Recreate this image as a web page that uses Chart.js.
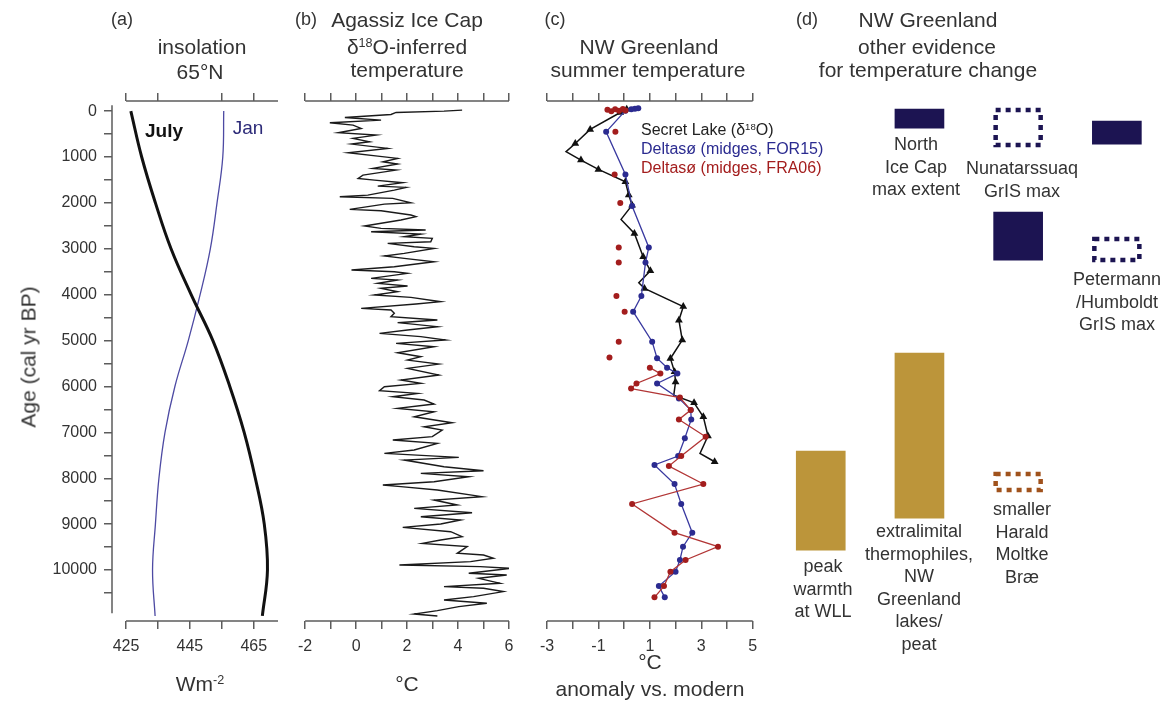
<!DOCTYPE html>
<html>
<head>
<meta charset="utf-8">
<title>NW Greenland Holocene temperature</title>
<script src="https://cdn.jsdelivr.net/npm/chart.js@4.4.0/dist/chart.umd.min.js"></script>
<style>
  body { margin: 0; background: #fff; }
  #wrap { position: relative; width: 1169px; height: 706px; overflow: hidden;
          font-family: "Liberation Sans", Arial, sans-serif; color: #333; }
  canvas { position: absolute; top: 0; }
  .t { position: absolute; white-space: nowrap; line-height: 1; font-size: 21px;
       transform: translate(-50%, -50%); }
  .tag { font-size: 18px; }
  .sup { font-size: 0.6em; position: relative; top: -0.55em; }
  .leg { position: absolute; left: 641px; font-size: 16px; line-height: 1; white-space: nowrap;
         transform: translateY(-50%); }
  .lab { position: absolute; font-size: 18px; line-height: 22.5px; text-align: center;
         white-space: nowrap; transform: translateX(-50%); }
</style>
</head>
<body>
<div id="wrap">
  <canvas id="insol" width="290" height="706" style="left:0"></canvas>
  <canvas id="agassiz" width="235" height="706" style="left:290px"></canvas>
  <canvas id="summer" width="240" height="706" style="left:530px"></canvas>
  <canvas id="evidence" width="409" height="706" style="left:760px"></canvas>

  <div class="t tag" style="left:122px;top:19px">(a)</div>
  <div class="t" style="left:202px;top:46px">insolation</div>
  <div class="t" style="left:200px;top:71px">65°N</div>
  <div class="t tag" style="left:306px;top:19px">(b)</div>
  <div class="t" style="left:407px;top:19px">Agassiz Ice Cap</div>
  <div class="t" style="left:407px;top:46px">δ<span class="sup">18</span>O-inferred</div>
  <div class="t" style="left:407px;top:69px">temperature</div>
  <div class="t tag" style="left:555px;top:19px">(c)</div>
  <div class="t" style="left:649px;top:46px">NW Greenland</div>
  <div class="t" style="left:648px;top:69px">summer temperature</div>
  <div class="t tag" style="left:807px;top:19px">(d)</div>
  <div class="t" style="left:928px;top:19px">NW Greenland</div>
  <div class="t" style="left:927px;top:46px">other evidence</div>
  <div class="t" style="left:928px;top:69px">for temperature change</div>

  <div class="t" style="left:28px;top:357px;transform:translate(-50%,-50%) rotate(-90deg)">Age (cal yr BP)</div>
  <div class="t" style="left:200px;top:683px">Wm<span class="sup">-2</span></div>
  <div class="t" style="left:407px;top:683px">°C</div>
  <div class="t" style="left:650px;top:661px">°C</div>
  <div class="t" style="left:650px;top:688px">anomaly vs. modern</div>

  <div class="t" style="left:164px;top:130px;font-size:19px;font-weight:bold;color:#111">July</div>
  <div class="t" style="left:248px;top:127px;font-size:19px;color:#2c2a78">Jan</div>

  <div class="leg" style="top:130px;color:#222">Secret Lake (δ<span class="sup">18</span>O)</div>
  <div class="leg" style="top:149px;color:#2b2b90">Deltasø (midges, FOR15)</div>
  <div class="leg" style="top:168px;color:#a31d1d">Deltasø (midges, FRA06)</div>

  <div class="lab" style="left:916px;top:133px">North<br>Ice Cap<br>max extent</div>
  <div class="lab" style="left:1022px;top:157px">Nunatarssuaq<br>GrIS max</div>
  <div class="lab" style="left:1117px;top:268px">Petermann<br>/Humboldt<br>GrIS max</div>
  <div class="lab" style="left:823px;top:555px">peak<br>warmth<br>at WLL</div>
  <div class="lab" style="left:919px;top:520px">extralimital<br>thermophiles,<br>NW<br>Greenland<br>lakes/<br>peat</div>
  <div class="lab" style="left:1022px;top:498px">smaller<br>Harald<br>Moltke<br>Bræ</div>
</div>

<script>
const FONT = '"Liberation Sans", Arial, sans-serif';
const AXIS = '#5c5c5c';
const INK = '#333';
const NAVY = '#1c1452';
const GOLD = '#bc953a';
const BLUE = '#2b2b90';
const RED = '#a31d1d';

// age axis shared by every panel (cal yr BP, downward)
const Y_MIN = -220, Y_MAX = 11110;
const ageTicks = [0, 500, 1000, 1500, 2000, 2500, 3000, 3500, 4000, 4500, 5000,
                  5500, 6000, 6500, 7000, 7500, 8000, 8500, 9000, 9500, 10000, 10500];

// (a) insolation at 65°N, W m-2
const insolAge = [0, 1000, 2000, 3000, 4000, 5000, 6000, 7000, 8000, 9000, 10000, 11000];
const julyInsol = [426.5, 429.9, 434.2, 439.1, 445.4, 452.2, 457.5, 462.0, 465.5, 468.3, 469.3, 467.7];
const janInsol = [455.6, 455.3, 453.5, 451.4, 448.2, 444.5, 440.3, 437.2, 435.3, 434.2, 433.3, 434.1];
const insolTicks = [425, 435, 445, 455, 465];
const insolTopTicks = [425, 435, 455, 465];
const insolLabels = [425, 445, 465];

// (b) Agassiz Ice Cap d18O-inferred temperature, °C
const agassizAge = [-22, 0, 29, 73, 138, 196, 254, 305, 378, 472, 523, 595, 668, 719, 813, 908, 980,
  1031, 1104, 1154, 1249, 1285, 1394, 1467, 1503, 1561, 1634, 1663, 1721, 1830, 1866, 1902, 1997,
  2026, 2142, 2171, 2265, 2301, 2374, 2505, 2556, 2592, 2628, 2679, 2737, 2773, 2846, 2882, 2955,
  2991, 3100, 3158, 3209, 3282, 3390, 3463, 3499, 3536, 3645, 3681, 3753, 3812, 3862, 3935, 4008,
  4058, 4153, 4204, 4298, 4334, 4407, 4479, 4552, 4610, 4697, 4770, 4842, 4915, 4988, 5062, 5134,
  5265, 5352, 5425, 5512, 5606, 5751, 5860, 5933, 6005, 6093, 6151, 6223, 6296, 6383, 6477, 6550,
  6659, 6789, 6877, 6949, 7094, 7167, 7240, 7385, 7457, 7545, 7603, 7748, 7835, 7893, 7966, 8075,
  8147, 8183, 8256, 8401, 8474, 8583, 8655, 8750, 8837, 8909, 8997, 9069, 9164, 9272, 9345, 9418,
  9490, 9635, 9672, 9744, 9817, 9890, 9926, 9962, 10071, 10107, 10180, 10289, 10361, 10398, 10470,
  10579, 10652, 10724, 10797, 10884, 10957, 11000];
const agassizTemp = [4.16, 3.45, 1.57, 1.37, -0.44, 0.98, -1.03, -0.12, 0.20, -0.70, 0.79, -0.12, 0.53,
  -0.18, 1.24, -0.31, 0.85, 1.63, 1.05, 1.63, 0.66, 1.57, 0.27, 0.08, 0.72, 1.83, 0.85, 1.96, 1.50,
  0.46, -0.64, 1.44, 2.15, 1.11, -0.25, 0.98, 2.15, 2.35, 1.76, 0.33, 0.98, 2.73, 0.59, 2.54, 1.89,
  2.99, 2.93, 1.24, 2.28, 3.06, 1.89, 1.11, 1.89, 3.06, 1.50, -0.18, 1.50, 2.02, 0.59, 1.63, 0.85,
  2.02, 0.98, 1.63, 0.72, 2.15, 3.32, 2.35, 0.20, 1.37, 1.50, 1.37, 3.19, 1.63, 3.19, 2.02, 0.92,
  2.54, 3.51, 1.57, 3.06, 1.63, 2.54, 2.02, 3.25, 2.02, 3.25, 1.76, 2.54, 1.11, 0.92, 2.41, 1.44,
  2.67, 3.06, 1.63, 3.06, 2.28, 3.77, 2.67, 3.38, 2.99, 1.44, 3.19, 2.28, 1.11, 4.03, 1.89, 3.45,
  5.00, 2.54, 4.42, 3.06, 1.05, 1.76, 3.19, 4.94, 3.06, 3.97, 2.28, 4.55, 2.54, 4.10, 3.32, 1.83,
  3.71, 4.16, 3.32, 2.60, 4.36, 3.97, 5.00, 5.39, 4.49, 1.70, 4.87, 6.04, 4.42, 5.91, 4.81, 5.65,
  3.45, 5.00, 5.78, 4.61, 3.45, 5.13, 4.03, 3.19, 2.28, 3.19];
const agassizTicks = [-2, -1, 0, 1, 2, 3, 4, 5, 6];
const agassizLabels = [-2, 0, 2, 4, 6];

// (c) NW Greenland summer temperature anomaly, °C
const secretAge = [-40, 30, 400, 705, 885, 1067, 1270, 1540, 1830, 2050, 2360, 2665, 3175, 3480,
  3740, 3865, 4260, 4555, 4990, 5390, 5680, 5900, 6190, 6355, 6660, 7080, 7460, 7640];
const secretTemp = [0.10, -0.15, -1.32, -1.90, -2.26, -1.68, -1.00, 0.05, 0.18, 0.31, -0.12, 0.40,
  0.74, 1.02, 0.57, 0.79, 2.30, 2.13, 2.26, 1.80, 1.96, 2.00, 1.93, 2.72, 3.08, 3.26, 2.95, 3.52];
const secretUnmarked = [4, 10, 14, 22, 26];

const for15Age = [-60, -50, -40, -10, 450, 1380, 2070, 2970, 3300, 4030, 4370, 5025, 5385, 5590,
  5720, 5935, 6260, 6515, 6720, 7130, 7515, 7710, 8125, 8560, 9185, 9490, 9780, 10035, 10350, 10595];
const for15Temp = [0.55, 0.42, 0.28, 0.05, -0.70, 0.05, 0.31, 0.96, 0.83, 0.67, 0.35, 1.09, 1.28,
  1.67, 2.07, 1.28, 2.13, 2.59, 2.61, 2.36, 2.10, 1.18, 1.96, 2.22, 2.65, 2.29, 2.17, 2.00, 1.35, 1.58];

const fra06LooseAge = [-30, 5, -40, -10, -45, -15, 450, 1380, 2000, 2970, 3300, 4030, 4370, 5025, 5370];
const fra06LooseTemp = [-0.65, -0.50, -0.35, -0.20, -0.05, 0.05, -0.34, -0.37, -0.15, -0.21, -0.21,
  -0.30, 0.02, -0.21, -0.57];
const fra06Age = [5590, 5720, 5935, 6045, 6240, 6515, 6720, 7095, 7515, 7735, 8125, 8560, 9185,
  9490, 9780, 10035, 10350, 10595];
const fra06Temp = [1.00, 1.41, 0.48, 0.27, 2.17, 2.59, 2.13, 3.17, 2.22, 1.74, 3.08, 0.31, 1.96,
  3.65, 2.39, 1.80, 1.55, 1.18];
const summerTicks = [-3, -2, -1, 0, 1, 2, 3, 4, 5];
const summerLabels = [-3, -1, 1, 3, 5];

// (d) other evidence: age spans (cal yr BP) per column
const evidenceCols = ['WLL', 'North Ice Cap', 'Nunatarssuaq', 'Petermann'];
const iceSolid = [null, [-44, 370], [2200, 3246], [218, 719]];
const iceDotted = [null, null, [-65, 784], [2745, 3290]];
const warmSolid = [[7407, 9564], [5272, 8867], null, null];
const warmDotted = [null, null, [7865, 8300], null];

const pts = (xs, ys) => xs.map((x, i) => ({ x, y: ys[i] }));

// axis baselines drawn from the first tick to the right edge
const axisLines = {
  id: 'axisLines',
  afterDraw(chart, args, opts) {
    const { ctx, chartArea, scales } = chart;
    const x0 = scales.x.getPixelForValue(opts.from);
    ctx.save();
    ctx.strokeStyle = AXIS;
    ctx.lineWidth = 1.5;
    ctx.beginPath();
    ctx.moveTo(x0, chartArea.top);
    ctx.lineTo(chartArea.right, chartArea.top);
    ctx.moveTo(x0, chartArea.bottom);
    ctx.lineTo(chartArea.right, chartArea.bottom);
    if (opts.ageLine) {
      ctx.moveTo(chartArea.left, scales.y.getPixelForValue(opts.ageLine[0]));
      ctx.lineTo(chartArea.left, scales.y.getPixelForValue(opts.ageLine[1]));
    }
    ctx.stroke();
    ctx.restore();
  }
};

// dotted outline boxes for the evidence panel
const dottedBoxes = {
  id: 'dottedBoxes',
  afterDatasetsDraw(chart) {
    const ctx = chart.ctx;
    chart.data.datasets.forEach((ds, i) => {
      if (!ds.dotted) return;
      chart.getDatasetMeta(i).data.forEach((bar, j) => {
        if (ds.data[j] == null) return;
        const { x, y, base, width } = bar.getProps(['x', 'y', 'base', 'width'], true);
        const top = Math.min(y, base) + 2;
        const h = Math.abs(base - y) - 4;
        ctx.save();
        ctx.strokeStyle = ds.dotted;
        ctx.lineWidth = 4.5;
        ctx.setLineDash([5, 5]);
        ctx.strokeRect(x - width / 2 + 2, top, width - 4, h);
        ctx.restore();
      });
    });
  }
};

function xAxis(pos, ticks, labels, min, max) {
  return {
    type: 'linear', position: pos, min, max,
    afterBuildTicks: s => { s.ticks = ticks.map(v => ({ value: v })); },
    afterFit: s => { s.height = pos === 'top' ? 101 : 85; },
    grid: { drawOnChartArea: false, drawTicks: true, tickLength: 8, color: AXIS, lineWidth: 1.5 },
    border: { display: false },
    ticks: {
      autoSkip: false, maxRotation: 0, padding: 8, color: INK,
      font: { size: 16, family: FONT },
      callback: v => (labels.includes(v) ? String(v) : '')
    }
  };
}

function panel(id, o) {
  const y = {
    type: 'linear', reverse: true, min: Y_MIN, max: Y_MAX, display: !!o.ageAxis,
    afterBuildTicks: s => { s.ticks = ageTicks.map(v => ({ value: v })); },
    grid: { drawOnChartArea: false, tickLength: 8, color: AXIS, lineWidth: 1.5 },
    border: { display: false },
    ticks: {
      padding: 7, color: INK, font: { size: 16, family: FONT },
      callback: v => (v % 1000 === 0 ? String(v) : '')
    }
  };
  if (o.ageAxis) y.afterFit = s => { s.width = o.ageAxis; };

  return new Chart(document.getElementById(id), {
    type: 'scatter',
    data: { datasets: o.datasets },
    options: {
      responsive: false, animation: false, devicePixelRatio: 1,
      layout: { padding: { left: o.padLeft, right: o.padRight, top: 0, bottom: 0 } },
      scales: {
        x: xAxis('bottom', o.ticks, o.labels, o.min, o.max),
        x2: xAxis('top', o.topTicks || o.ticks, [], o.min, o.max),
        y
      },
      plugins: {
        legend: { display: false },
        tooltip: { enabled: false },
        axisLines: { from: o.lineFrom, ageLine: o.ageLine }
      }
    },
    plugins: [axisLines]
  });
}

panel('insol', {
  min: 420.6, max: 472.6, ticks: insolTicks, topTicks: insolTopTicks, labels: insolLabels,
  lineFrom: 425, ageAxis: 112, ageLine: [-130, 10940], padLeft: 0, padRight: 12,
  datasets: [
    { data: pts(julyInsol, insolAge), showLine: true, tension: 0.4, borderColor: '#111',
      borderWidth: 3, pointRadius: 0 },
    { data: pts(janInsol, insolAge), showLine: true, tension: 0.4, borderColor: '#4d4aa3',
      borderWidth: 1.3, pointRadius: 0 }
  ]
});

panel('agassiz', {
  min: -2, max: 6, ticks: agassizTicks, labels: agassizLabels, lineFrom: -2,
  padLeft: 13.3, padRight: 16,
  datasets: [
    { data: pts(agassizTemp, agassizAge), showLine: true, borderColor: '#1a1a1a',
      borderWidth: 1.4, pointRadius: 0 }
  ]
});

panel('summer', {
  min: -3, max: 5, ticks: summerTicks, labels: summerLabels, lineFrom: -3,
  padLeft: 17, padRight: 17.3,
  datasets: [
    { data: pts(fra06Temp, fra06Age), showLine: true, borderColor: '#b23636', borderWidth: 1.3,
      pointRadius: 3, backgroundColor: RED, pointBorderWidth: 0 },
    { data: pts(fra06LooseTemp, fra06LooseAge), showLine: false,
      pointRadius: 3, backgroundColor: RED, pointBorderWidth: 0 },
    { data: pts(for15Temp, for15Age), showLine: true, borderColor: '#3a3aa0', borderWidth: 1.3,
      pointRadius: 3, backgroundColor: BLUE, pointBorderWidth: 0 },
    { data: pts(secretTemp, secretAge), showLine: true, borderColor: '#111', borderWidth: 1.5,
      pointStyle: 'triangle', backgroundColor: '#111', pointBorderWidth: 0,
      pointRadius: c => (secretUnmarked.includes(c.dataIndex) ? 0 : 4.5) }
  ]
});

new Chart(document.getElementById('evidence'), {
  type: 'bar',
  data: {
    labels: evidenceCols,
    datasets: [
      { data: iceSolid, backgroundColor: NAVY },
      { data: warmSolid, backgroundColor: GOLD },
      { data: iceDotted, backgroundColor: 'rgba(0,0,0,0)', dotted: NAVY },
      { data: warmDotted, backgroundColor: 'rgba(0,0,0,0)', dotted: '#a0521c' }
    ].map(d => Object.assign({ grouped: false, barThickness: 49, borderWidth: 0 }, d))
  },
  options: {
    responsive: false, animation: false, devicePixelRatio: 1,
    layout: { padding: { left: 11.4, right: 2.8, top: 101, bottom: 85 } },
    scales: {
      x: { type: 'category', display: false, offset: true },
      y: { type: 'linear', reverse: true, min: Y_MIN, max: Y_MAX, display: false }
    },
    plugins: { legend: { display: false }, tooltip: { enabled: false } }
  },
  plugins: [dottedBoxes]
});
</script>
</body>
</html>
